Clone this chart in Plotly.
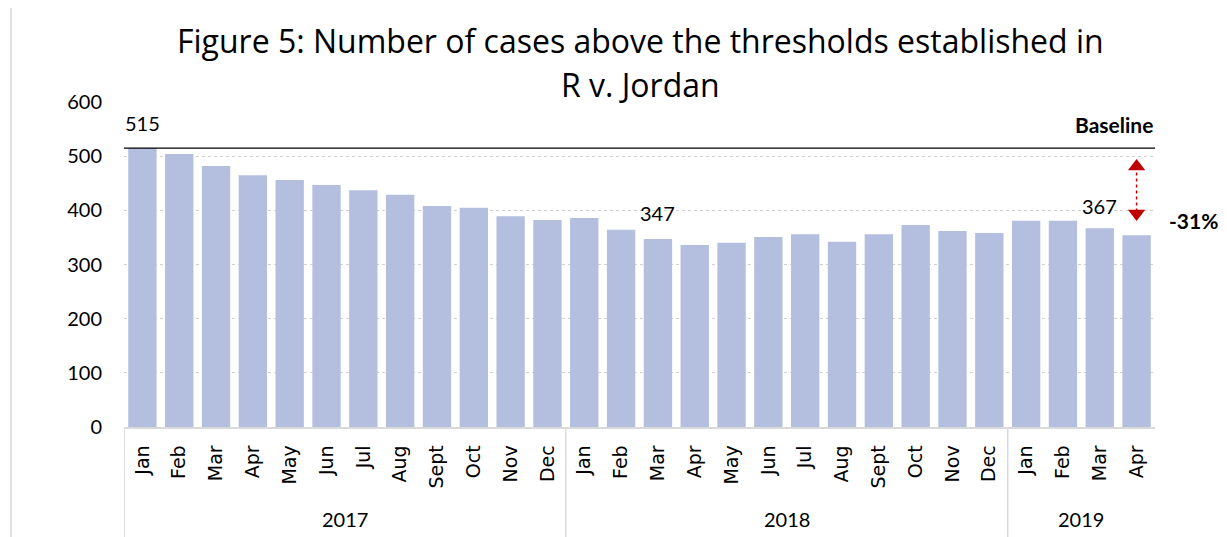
import plotly.graph_objects as go

years = ["2017"] * 12 + ["2018"] * 12 + ["2019"] * 4
months = ["Jan", "Feb", "Mar", "Apr", "May", "Jun", "Jul", "Aug", "Sept", "Oct", "Nov", "Dec",
          "Jan", "Feb", "Mar", "Apr", "May", "Jun", "Jul", "Aug", "Sept", "Oct", "Nov", "Dec",
          "Jan", "Feb", "Mar", "Apr"]
cases = [515, 504, 482, 465, 456, 447, 437, 429, 408, 405, 389, 382,
         386, 364, 347, 336, 340, 351, 356, 342, 356, 373, 362, 358,
         381, 381, 367, 354]
baseline = cases[0]
labelled = [0, 14, 26]
label_shift = {0: 11, 14: 12, 26: 8}
change_text = "-31%"
title_lines = ["Figure 5: Number of cases above the thresholds established in", "R v. Jordan"]

FONT = "Lato"
TFONT = "Open Sans"
XFONT = "DejaVu Sans"
BAR = "#B4BFDF"
RED = "#C00000"
GRID = "#D9D9D9"

n = len(cases)
idx = list(range(n))

fig = go.Figure()
fig.add_trace(go.Bar(x=idx, y=cases, marker=dict(color=BAR, line=dict(width=0)),
                     width=0.77, showlegend=False, hoverinfo="y",
                     customdata=[f"{m} {y}" for m, y in zip(months, years)],
                     hovertemplate="%{customdata}: %{y}<extra></extra>"))

last = cases[-1]
top_y = baseline - 34
bot_y = last + 40
fig.add_shape(type="line", xref="x", yref="y", x0=n - 1, x1=n - 1, y0=top_y, y1=bot_y,
              line=dict(color=RED, width=1.5, dash="dot"))
fig.add_trace(go.Scatter(x=[n - 1], y=[top_y], mode="markers",
                         marker=dict(symbol="triangle-up", size=15, color=RED),
                         showlegend=False, hoverinfo="skip"))
fig.add_trace(go.Scatter(x=[n - 1], y=[bot_y], mode="markers",
                         marker=dict(symbol="triangle-down", size=15, color=RED),
                         showlegend=False, hoverinfo="skip"))

# baseline
fig.add_shape(type="line", xref="paper", yref="y", x0=0, x1=1, y0=baseline, y1=baseline,
              line=dict(color="#000000", width=1.3))
fig.add_annotation(xref="paper", yref="y", x=1, y=baseline, text="<b>Baseline</b>",
                   showarrow=False, xanchor="right", yanchor="bottom", yshift=9,
                   font=dict(family=FONT, size=21, color="#000"))
fig.add_annotation(xref="paper", yref="y", x=1.037, y=last + 28, text="<b>" + change_text + "</b>",
                   showarrow=False, xanchor="center", yanchor="middle",
                   font=dict(family=FONT, size=21, color="#000"))

for i in labelled:
    fig.add_annotation(x=i, y=cases[i], text=str(cases[i]), showarrow=False,
                       yanchor="bottom", yshift=label_shift[i],
                       font=dict(family=FONT, size=20, color="#000"))

# year group labels and dividers
groups = []
for i, y in enumerate(years):
    if not groups or groups[-1][0] != y:
        groups.append([y, i, i])
    else:
        groups[-1][2] = i
for y, start, end in groups:
    fig.add_annotation(x=(start + end) / 2, xref="x", yref="paper", y=-0.283, text=y,
                       showarrow=False, xanchor="center", yanchor="middle",
                       font=dict(family=FONT, size=20, color="#000"))
    fig.add_shape(type="line", xref="x", yref="paper", x0=start - 0.5, x1=start - 0.5,
                  y0=0, y1=-0.4, line=dict(color=GRID, width=1.5))

# title as two lines
for line_text, ty in zip(title_lines, [1.19, 1.055]):
    fig.add_annotation(xref="paper", yref="paper", x=0.501, y=ty, text=line_text,
                       showarrow=False, xanchor="center", yanchor="middle",
                       font=dict(family=TFONT, size=32, color="#000"))

# outer border line at left
fig.add_shape(type="line", xref="paper", yref="paper", x0=-0.1096, x1=-0.1096, y0=-0.4, y1=1.4,
              line=dict(color=GRID, width=1.5))

fig.update_layout(
    width=1219, height=529,
    margin=dict(l=116, r=72, t=94, b=110),
    paper_bgcolor="white", plot_bgcolor="white",
    font=dict(family=FONT, size=17, color="#000"),
    yaxis=dict(range=[0, 600], dtick=100, showgrid=True, gridcolor="#D0D0D0", griddash="dot",
               gridwidth=1, zeroline=False, showline=False, ticks="", ticklen=0,
               ticklabelstandoff=21,
               tickfont=dict(family=FONT, size=20, color="#000")),
    xaxis=dict(tickmode="array", tickvals=idx, ticktext=months, tickangle=-90,
               showline=True, linecolor=GRID, linewidth=1.5, showgrid=False, zeroline=False,
               ticks="", ticklabelstandoff=9,
               tickfont=dict(family=XFONT, size=19, color="#000"),
               range=[-0.5, n - 0.5], automargin=False),
)

fig.write_html("out.html")
